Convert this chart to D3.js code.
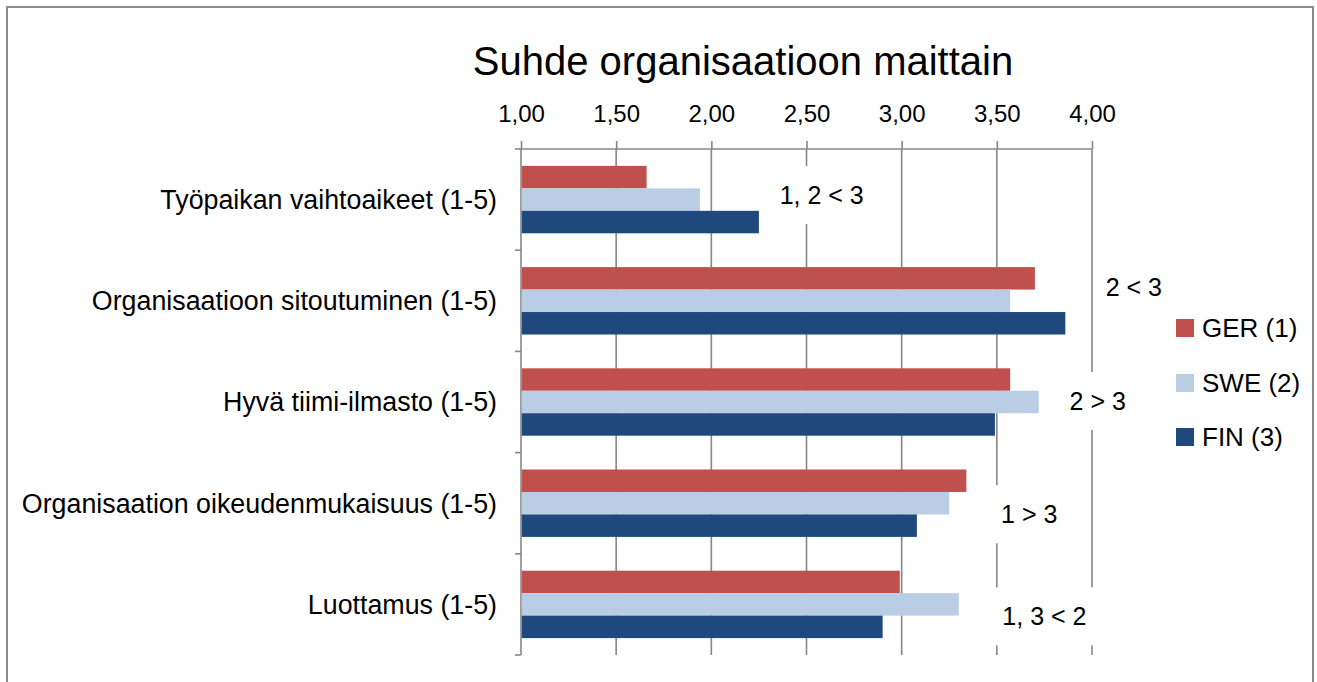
<!DOCTYPE html>
<html><head><meta charset="utf-8">
<script src="https://cdn.jsdelivr.net/npm/d3@7"></script>
<style>
html,body{margin:0;padding:0;background:#fff;}
text{font-family:"Liberation Sans",Arial,sans-serif;fill:#000;}
</style></head>
<body><svg id="c" width="1317" height="682"></svg>
<script>
const categories = ["Työpaikan vaihtoaikeet (1-5)","Organisaatioon sitoutuminen (1-5)","Hyvä tiimi-ilmasto (1-5)","Organisaation oikeudenmukaisuus (1-5)","Luottamus (1-5)"];
const seriesNames = ["GER (1)","SWE (2)","FIN (3)"];
const gerValues = [1.66, 3.70, 3.57, 3.34, 2.99];
const sweValues = [1.94, 3.57, 3.72, 3.25, 3.30];
const finValues = [2.25, 3.86, 3.49, 3.08, 2.90];
const tickValues = [1.00, 1.50, 2.00, 2.50, 3.00, 3.50, 4.00];
const annotations = ["1, 2 < 3", "2 < 3", "2 > 3", "1 > 3", "1, 3 < 2"];
const titleText = "Suhde organisaatioon maittain";

// layout (not data)
const annX = [2.58, 4.22, 4.03, 3.67, 3.75];
const annDy = [-4.5, -14, -1, 11, 12];
const colors = ["#c0504d", "#b9cde5", "#1f497d"];

const values = [gerValues, sweValues, finValues];
const svg = d3.select("#c");

// frame
svg.append("rect").attr("x",7).attr("y",7).attr("width",1306).attr("height",690)
  .attr("fill","none").attr("stroke","#8a8a8a").attr("stroke-width",2);

const x = d3.scaleLinear().domain([1,4]).range([521,1092]);
const y = d3.scaleBand().domain(categories).range([149,655]);
const groupH = y.step()*0.666;
const ySub = d3.scaleBand().domain(seriesNames).range([0, groupH]);

// title
svg.append("text").attr("x",743).attr("y",75).attr("text-anchor","middle")
  .style("font-size","40px").text(titleText);

// gridlines
svg.append("g").selectAll("line").data(tickValues.slice(1)).join("line")
  .attr("x1",d=>x(d)).attr("x2",d=>x(d)).attr("y1",149).attr("y2",655)
  .attr("stroke","#878787").attr("stroke-width",1.6);

// top axis
const ax = svg.append("g").attr("transform","translate(0,149)")
  .call(d3.axisTop(x).tickValues(tickValues).tickSize(8).tickPadding(19)
    .tickFormat(d=>d3.format(".2f")(d).replace(".",",")));
ax.select(".domain").attr("stroke","#878787").attr("stroke-width",1.6).attr("d","M521,0H1092");
ax.selectAll(".tick line").attr("stroke","#878787").attr("stroke-width",1.6);
ax.selectAll(".tick text").style("font-size","24px").style("font-family","'Liberation Sans',Arial,sans-serif").attr("fill","#000");

// category axis
const bounds = categories.map(c=>y(c)).concat([y.range()[1]]);
svg.append("line").attr("x1",x(1)).attr("x2",x(1)).attr("y1",149).attr("y2",655)
  .attr("stroke","#878787").attr("stroke-width",1.6);
svg.append("g").selectAll("line").data(bounds).join("line")
  .attr("x1",x(1)-6).attr("x2",x(1)).attr("y1",d=>d).attr("y2",d=>d)
  .attr("stroke","#878787").attr("stroke-width",1.6);
svg.append("g").selectAll("text").data(categories).join("text")
  .attr("x",497).attr("y",d=>y(d)+y.bandwidth()/2).attr("dy","0.35em")
  .attr("text-anchor","end").style("font-size","26.8px").text(d=>d);

// bars
const off = (y.step()-groupH)/2;
seriesNames.forEach((s,i)=>{
  svg.append("g").selectAll("rect").data(categories).join("rect")
    .attr("x",x(1)+0.8)
    .attr("y",(d)=>y(d)+off+ySub(s))
    .attr("width",(d,j)=>x(values[i][j])-x(1)-0.8)
    .attr("height",ySub.bandwidth())
    .attr("fill",colors[i]);
});

// annotations with white boxes
const ag = svg.append("g");
annotations.forEach((t,i)=>{
  const cy = y(categories[i]) + y.bandwidth()/2 + annDy[i];
  const g = ag.append("g");
  const rect = g.append("rect").attr("fill","#fff");
  const txt = g.append("text").attr("x",x(annX[i])).attr("y",cy).attr("dy","0.35em")
    .attr("text-anchor","middle").style("font-size","25px").text(t);
  const bb = txt.node().getBBox();
  rect.attr("x",bb.x-10).attr("y",cy-29).attr("width",bb.width+20).attr("height",58);
});

// legend
const lg = svg.append("g");
const legY = [328, 383, 437];
seriesNames.forEach((s,i)=>{
  lg.append("rect").attr("x",1176).attr("y",legY[i]-9).attr("width",18).attr("height",18).attr("fill",colors[i]);
  lg.append("text").attr("x",1202).attr("y",legY[i]).attr("dy","0.35em").style("font-size","26px").text(s);
});
</script></body></html>
